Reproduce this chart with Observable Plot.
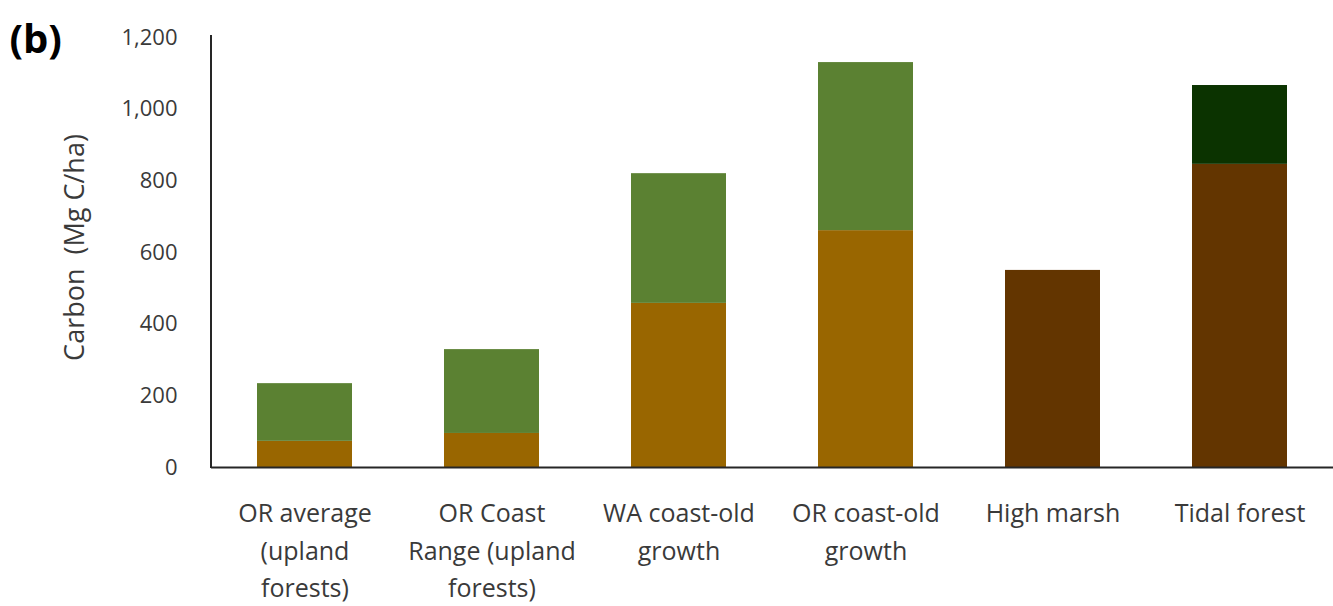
<!DOCTYPE html>
<html><head><meta charset="utf-8">
<script src="https://cdn.jsdelivr.net/npm/d3@7"></script>
<script src="https://cdn.jsdelivr.net/npm/@observablehq/plot@0.6"></script>
<style>
html,body{margin:0;padding:0;background:#fff;}
#chart svg{display:block;}
</style></head><body><div id="chart"></div>
<script>
// ---- data ----
const categories = ["OR average (upland forests)", "OR Coast Range (upland forests)", "WA coast-old growth", "OR coast-old growth", "High marsh", "Tidal forest"];
const categoryLabels = ["OR average\n(upland\nforests)", "OR Coast\nRange (upland\nforests)", "WA coast-old\ngrowth", "OR coast-old\ngrowth", "High marsh", "Tidal forest"];
const soilCarbon = [73, 95, 458, 661, 550, 846];
const vegetationCarbon = [161, 234, 362, 469, 0, 220];
const soilComponent = ["Upland soil", "Upland soil", "Upland soil", "Upland soil", "Wetland soil", "Wetland soil"];
const vegetationComponent = ["Upland vegetation", "Upland vegetation", "Upland vegetation", "Upland vegetation", "Wetland vegetation", "Wetland vegetation"];
const yTicks = [0, 200, 400, 600, 800, 1000, 1200];
const yLabel = "Carbon\u00a0\u00a0(Mg C/ha)";
const panelLabel = "(b)";

// ---- styles ----
const componentOrder = ["Upland soil", "Upland vegetation", "Wetland soil", "Wetland vegetation"];
const componentColors = ["#996600", "#5b8132", "#633500", "#0b3300"];
const font = "'Open Sans', 'Noto Sans', sans-serif";

const rows = categories.flatMap((c, i) => [
  {category: c, component: soilComponent[i], value: soilCarbon[i]},
  {category: c, component: vegetationComponent[i], value: vegetationCarbon[i]}
]);
const labelOf = new Map(categories.map((c, i) => [c, categoryLabels[i]]));

const yAxisLine = (index, scales, values, dims) => {
  const l = document.createElementNS("http://www.w3.org/2000/svg", "line");
  l.setAttribute("x1", dims.marginLeft);
  l.setAttribute("x2", dims.marginLeft);
  l.setAttribute("y1", scales.y(1200) - 2);
  l.setAttribute("y2", scales.y(0) + 1);
  l.setAttribute("stroke", "#262626");
  l.setAttribute("stroke-width", 2);
  return l;
};

const chart = Plot.plot({
  width: 1333,
  height: 606,
  marginLeft: 211,
  marginRight: 0,
  marginTop: 37,
  marginBottom: 139,
  style: {fontFamily: font, background: "#fff", color: "#333"},
  x: {domain: categories, paddingInner: 0.49, paddingOuter: 0.245, axis: null},
  y: {domain: [0, 1200], axis: null},
  color: {domain: componentOrder, range: componentColors},
  marks: [
    Plot.barY(rows, {x: "category", y: "value", fill: "component"}),
    Plot.ruleY([0], {stroke: "#262626", strokeWidth: 2}),
    yAxisLine,
    Plot.axisY({ticks: yTicks, tickSize: 0, tickPadding: 34, tickFormat: d3.format(","), fontSize: 22, label: null, fill: "#3a3a3a"}),
    Plot.axisX({tickSize: 0, tickPadding: 28, tickFormat: d => labelOf.get(d), fontSize: 25, lineHeight: 1.5, label: null, fill: "#3a3a3a"}),
    Plot.text([yLabel], {frameAnchor: "left", textAnchor: "middle", rotate: -90, dx: -136, dy: -5, fontSize: 27, fill: "#3a3a3a"}),
    Plot.text([panelLabel], {frameAnchor: "top-left", textAnchor: "start", lineAnchor: "middle", dx: -202, dy: 3, fontSize: 40, fontWeight: "bold", fill: "#000"})
  ]
});
document.getElementById("chart").append(chart);
</script>
</body></html>
